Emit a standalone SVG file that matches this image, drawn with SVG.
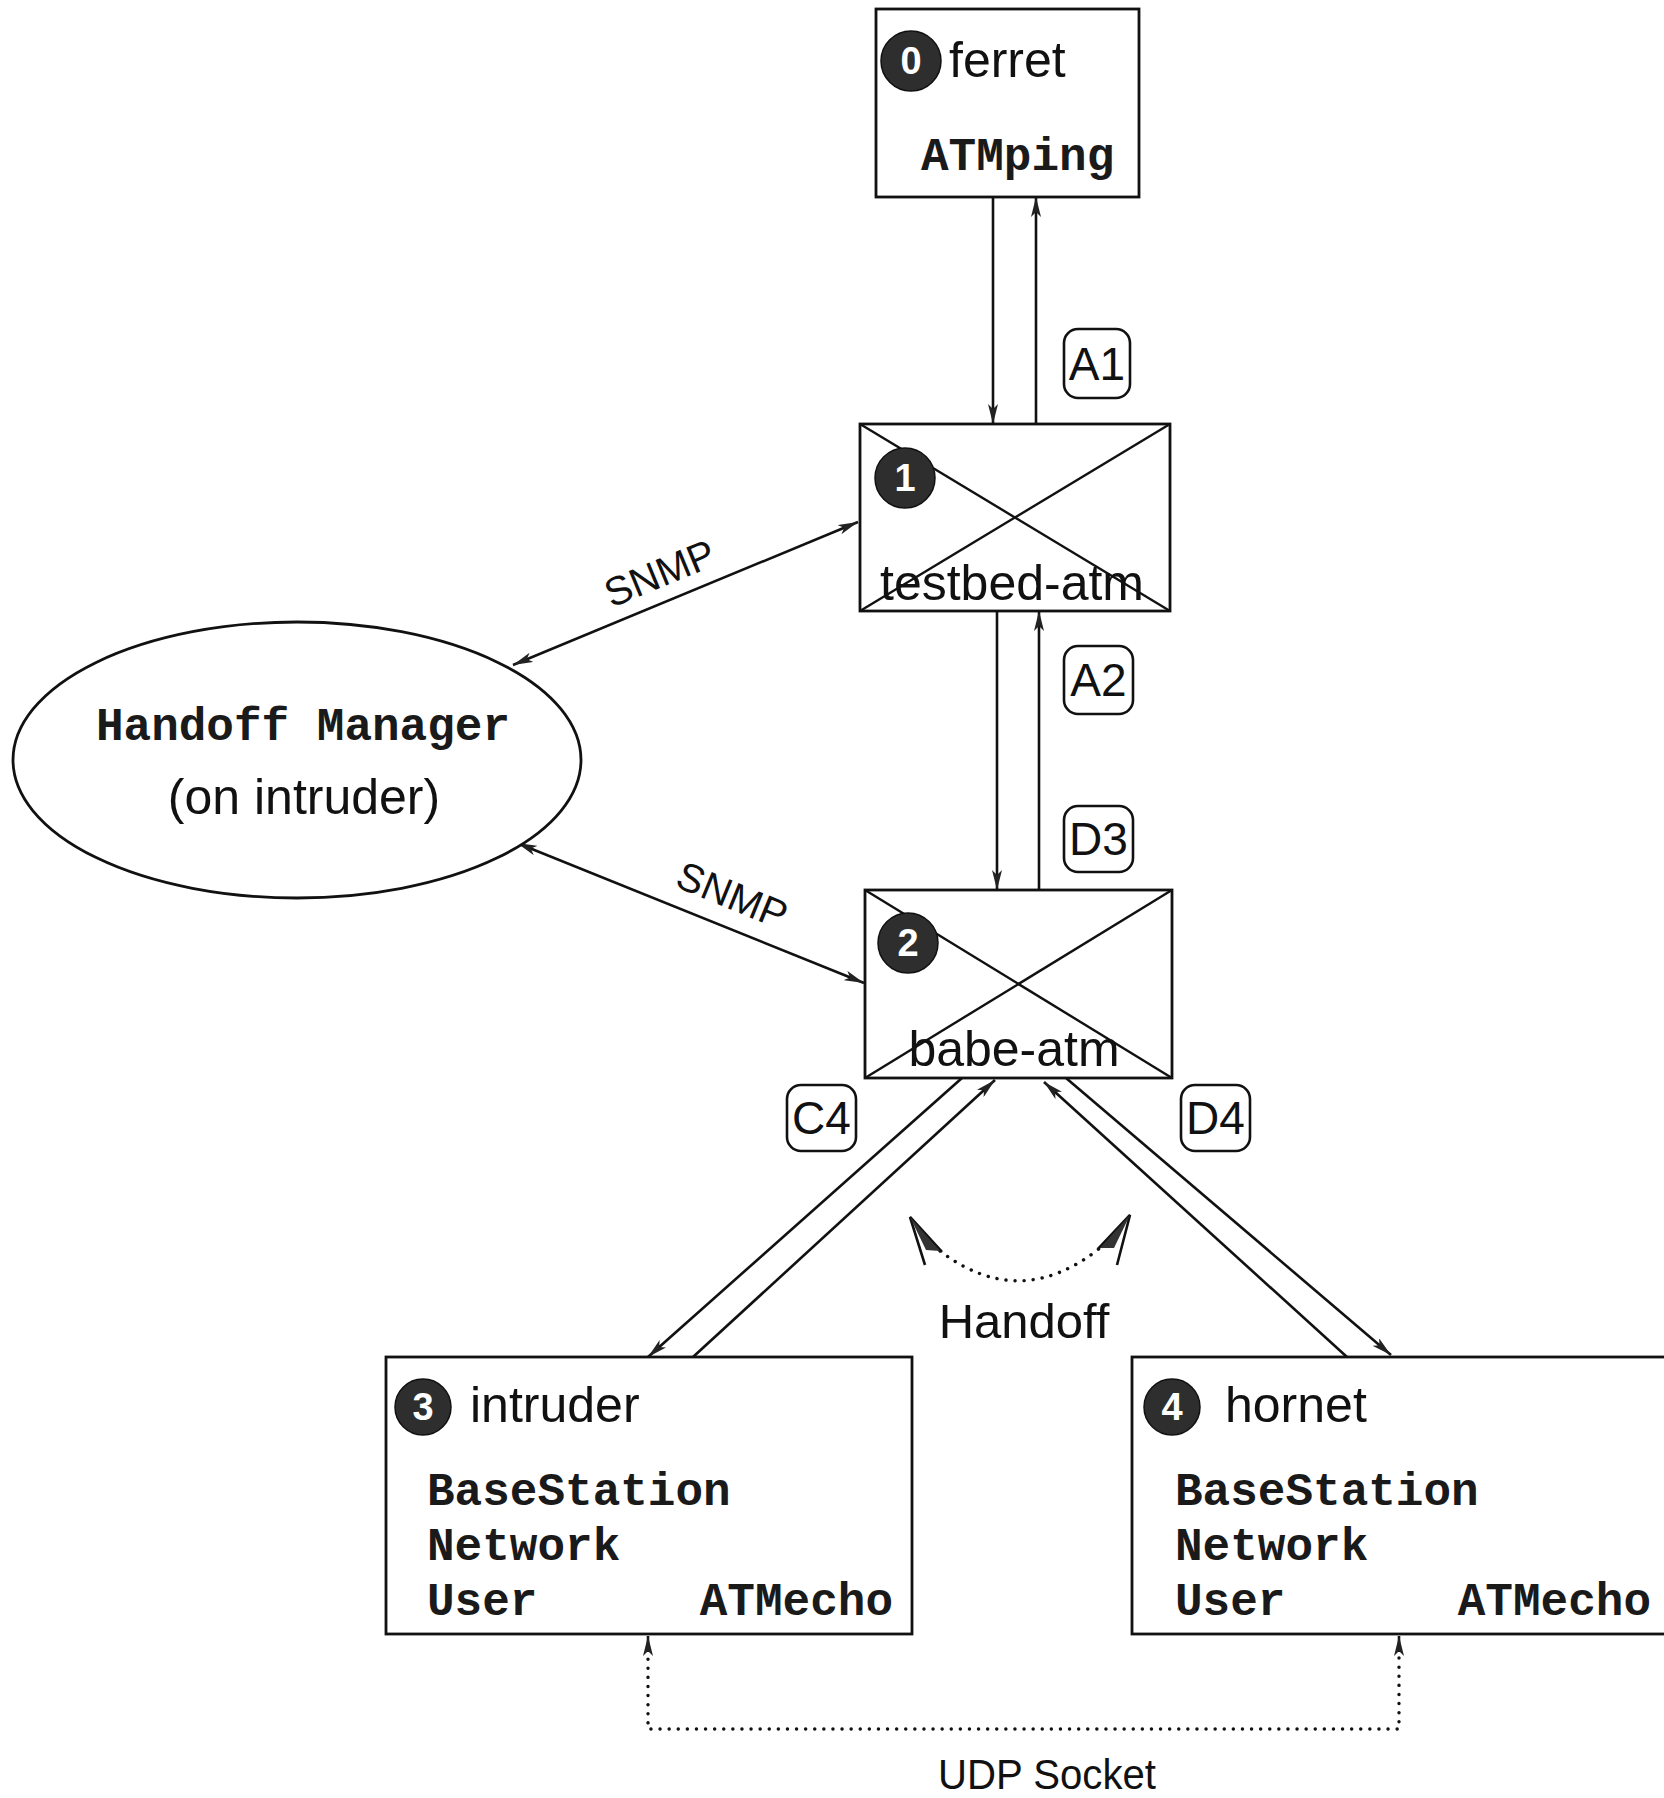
<svg xmlns="http://www.w3.org/2000/svg" width="1664" height="1798" viewBox="0 0 1664 1798">
<defs>
<style>
.box{fill:#fff;stroke:#111;stroke-width:2.8}
.ln{stroke:#111;stroke-width:2.6;fill:none}
.x{stroke:#111;stroke-width:2.4;fill:none}
.dot{stroke:#111;stroke-width:3.4;fill:none;stroke-dasharray:0.1 9;stroke-linecap:round}
.sans{font-family:"Liberation Sans",Arial,sans-serif;fill:#111}
.name{font-family:"Liberation Sans",Arial,sans-serif;fill:#111;font-size:50px}
.mono{font-family:"Liberation Mono","Courier New",monospace;font-weight:bold;fill:#1a1a1a;font-size:46px}
.num{font-family:"Liberation Sans",Arial,sans-serif;font-weight:bold;fill:#fff;font-size:38px;text-anchor:middle}
.badge{fill:#2e2e2e;stroke:#111;stroke-width:1.5}
.lbl{fill:#fff;stroke:#111;stroke-width:2.6}
.lt{font-family:"Liberation Sans",Arial,sans-serif;fill:#111;font-size:46px;text-anchor:middle}
</style>
<marker id="ah" viewBox="0 0 20 10" refX="20" refY="5" markerWidth="20" markerHeight="10" markerUnits="userSpaceOnUse" orient="auto-start-reverse">
<path d="M0,0 L20,5 L0,10 L5,5 z" fill="#222"/>
</marker>
</defs>
<rect width="1664" height="1798" fill="#fff"/>

<g id="connectors">
<line class="ln" x1="993" y1="197" x2="993" y2="424" marker-end="url(#ah)"/>
<line class="ln" x1="1036" y1="424" x2="1036" y2="197" marker-end="url(#ah)"/>
<line class="ln" x1="997" y1="611" x2="997" y2="890" marker-end="url(#ah)"/>
<line class="ln" x1="1039" y1="890" x2="1039" y2="611" marker-end="url(#ah)"/>
<line class="ln" x1="513" y1="665" x2="858" y2="522" marker-start="url(#ah)" marker-end="url(#ah)"/>
<line class="ln" x1="517" y1="843" x2="864" y2="983" marker-start="url(#ah)" marker-end="url(#ah)"/>
<text class="sans" font-size="40" text-anchor="middle" transform="translate(665,586) rotate(-22.4)">SNMP</text>
<text class="sans" font-size="40" text-anchor="middle" transform="translate(727,908) rotate(22.3)">SNMP</text>
<line class="ln" x1="962" y1="1078" x2="648" y2="1357" marker-end="url(#ah)"/>
<line class="ln" x1="693" y1="1357" x2="995" y2="1080" marker-end="url(#ah)"/>
<line class="ln" x1="1347" y1="1357" x2="1044" y2="1082" marker-end="url(#ah)"/>
<line class="ln" x1="1066" y1="1078" x2="1391" y2="1355" marker-end="url(#ah)"/>
<polyline class="dot" points="648,1650 648,1729 1399,1729 1399,1650"/>
<line class="ln" x1="648" y1="1652" x2="648" y2="1636" marker-end="url(#ah)"/>
<line class="ln" x1="1399" y1="1652" x2="1399" y2="1636" marker-end="url(#ah)"/>
<text class="sans" font-size="43" text-anchor="middle" x="1047" y="1789" textLength="218" lengthAdjust="spacingAndGlyphs">UDP Socket</text>
<g id="lbl-A1"><rect class="lbl" x="1064" y="329" width="66" height="69" rx="14"/><text class="lt" x="1097" y="380">A1</text></g>
<g id="lbl-A2"><rect class="lbl" x="1064" y="646" width="69" height="68" rx="14"/><text class="lt" x="1098.5" y="696">A2</text></g>
<g id="lbl-D3"><rect class="lbl" x="1064" y="806" width="69" height="66" rx="14"/><text class="lt" x="1098.5" y="855">D3</text></g>
<g id="lbl-C4"><rect class="lbl" x="787" y="1085" width="69" height="66" rx="14"/><text class="lt" x="821.5" y="1134">C4</text></g>
<g id="lbl-D4"><rect class="lbl" x="1181" y="1085" width="69" height="66" rx="14"/><text class="lt" x="1215.5" y="1134">D4</text></g>
</g>

<g id="handoff">
<path class="dot" d="M940,1251 Q1020,1312 1100,1248"/>
<path class="ln" d="M925,1265 L910,1217 L942,1252"/>
<path d="M910,1217 L926,1250 L940,1251 z" fill="#333"/>
<path class="ln" d="M1117,1265 L1130,1215 L1098,1249"/>
<path d="M1130,1215 L1114,1248 L1100,1248 z" fill="#333"/>
<text class="sans" font-size="49" text-anchor="middle" x="1024" y="1338">Handoff</text>
</g>

<g id="node-ferret">
<rect class="box" x="876" y="9" width="263" height="188"/>
<circle class="badge" cx="911" cy="61" r="30"/>
<text class="num" x="911" y="74">0</text>
<text class="name" x="949" y="77">ferret</text>
<text class="mono" font-size="45" x="921" y="170">ATMping</text>
</g>

<g id="node-testbed">
<rect class="box" x="860" y="424" width="310" height="187"/>
<line class="x" x1="860" y1="424" x2="1170" y2="611"/>
<line class="x" x1="860" y1="611" x2="1170" y2="424"/>
<circle class="badge" cx="905" cy="478" r="30"/>
<text class="num" x="905" y="491">1</text>
<text class="name" x="1012" y="600" text-anchor="middle">testbed-atm</text>
</g>

<g id="node-babe">
<rect class="box" x="865" y="890" width="307" height="188"/>
<line class="x" x1="865" y1="890" x2="1172" y2="1078"/>
<line class="x" x1="865" y1="1078" x2="1172" y2="890"/>
<circle class="badge" cx="908" cy="943" r="30"/>
<text class="num" x="908" y="956">2</text>
<text class="name" x="1014" y="1066" text-anchor="middle" font-size="49">babe-atm</text>
</g>

<g id="node-manager">
<ellipse class="box" cx="297" cy="760" rx="284" ry="138"/>
<text class="mono" x="303" y="740" text-anchor="middle">Handoff Manager</text>
<text class="sans" font-size="50" x="304" y="814" text-anchor="middle">(on intruder)</text>
</g>

<g id="node-intruder">
<rect class="box" x="386" y="1357" width="526" height="277"/>
<circle class="badge" cx="423" cy="1407" r="28"/>
<text class="num" x="423" y="1420">3</text>
<text class="name" x="470" y="1422">intruder</text>
<text class="mono" x="427" y="1505">BaseStation</text>
<text class="mono" x="427" y="1560">Network</text>
<text class="mono" x="427" y="1615">User</text>
<text class="mono" x="893" y="1615" text-anchor="end">ATMecho</text>
</g>

<g id="node-hornet">
<rect class="box" x="1132" y="1357" width="540" height="277"/>
<circle class="badge" cx="1172" cy="1407" r="28"/>
<text class="num" x="1172" y="1420">4</text>
<text class="name" x="1225" y="1422">hornet</text>
<text class="mono" x="1175" y="1505">BaseStation</text>
<text class="mono" x="1175" y="1560">Network</text>
<text class="mono" x="1175" y="1615">User</text>
<text class="mono" x="1651" y="1615" text-anchor="end">ATMecho</text>
</g>
</svg>
